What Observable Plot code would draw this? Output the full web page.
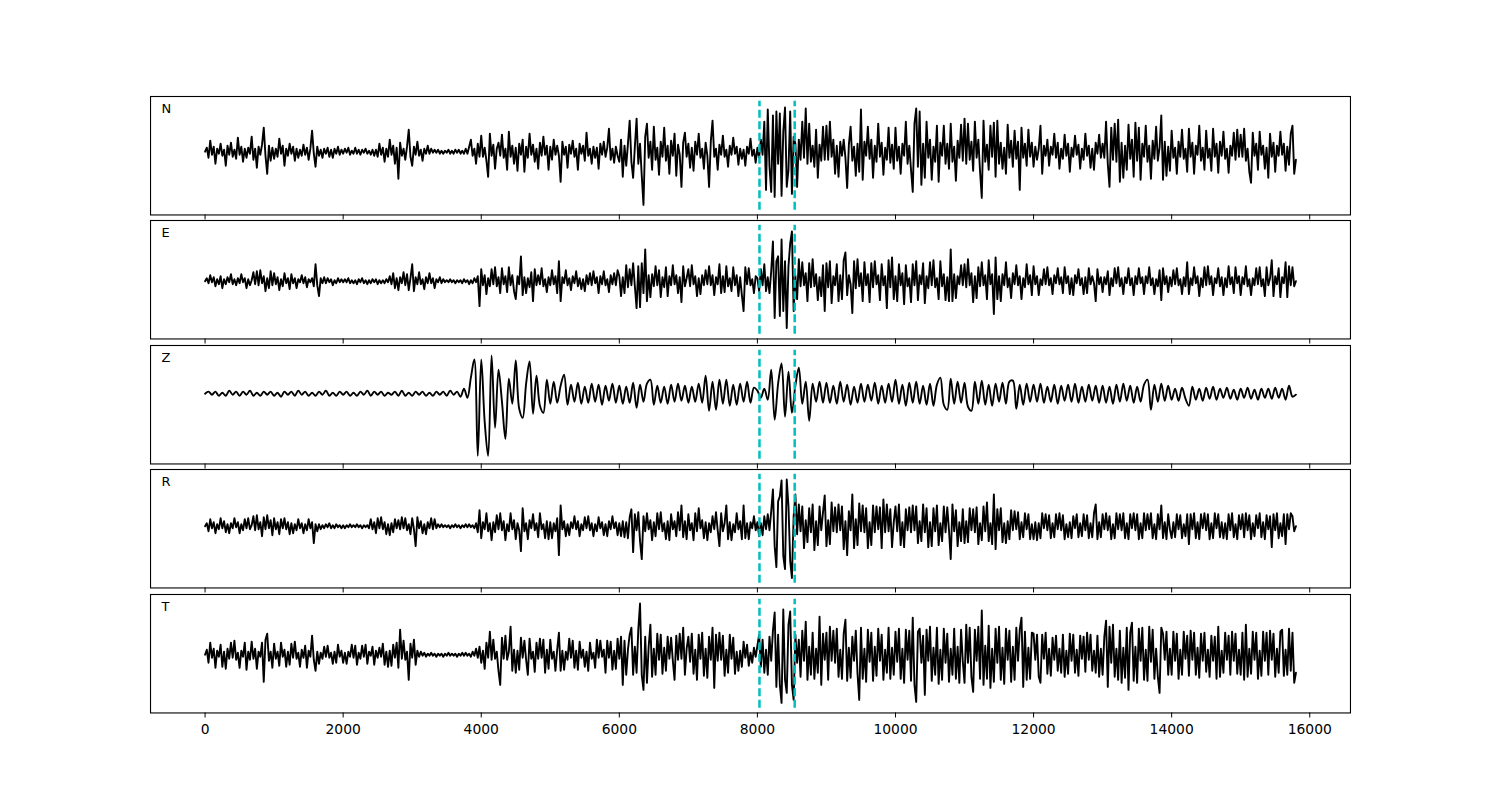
<!DOCTYPE html>
<html><head><meta charset="utf-8">
<script src="https://cdn.jsdelivr.net/npm/d3@7"></script>
<script src="https://cdn.jsdelivr.net/npm/@observablehq/plot@0.6"></script>
<style>
body{margin:0;background:#fff;}
#chart{position:relative;width:1500px;height:800px;overflow:hidden;}
.panel{position:absolute;left:0;}
</style>
</head><body><div id="chart"></div>
<script>
const components = ["N", "E", "Z", "R", "T"];
// sample spacing of each trace, in x units
const traceSteps = [25, 25, 50, 25, 25];
const nTrace = [
0, 4, -6, 11, -3, 5, -12, 3, -2, 8,  -4, 2, -14, 6, -3, 9, -5, 2, -7, 14,
-3, 5, -10, 3, -6, 4, -2, 15, -8, 3,  -16, 5, -3, 7, 24, -4, -22, 6, -9, 4,
-7, 3, -5, 13, -2, 6, -14, 3, -4, 8,  -2, 5, -9, 3, -6, 2, -4, 7, -3, 4,
-8, 3, 21, -2, -15, 5, -4, 2, -6, 3,  -2, 4, -5, 2, -6, 3, -2, 5, -3, 2,
-2, 3, -1, 4, -3, 1, -2, 4, -2, 2,  -3, 2, -1, 3, -2, 1, -3, 2, -4, 2,
-5, 8, -3, 4, -10, 3, -5, 12, -3, 6,  -12, 4, -27, 9, -4, 3, -8, 5, 22, -5,
-14, 5, -3, 10, -4, 2, -9, 3, -2, 6,  -2, 3, -1, 2, -1, 2, -2, 1, -2, 1,
-1, 2, -2, 1, -2, 2, -1, 2, -2, 1,  -2, 3, -2, 5, 12, -4, 3, -12, 8, -5,
16, -5, 4, -9, -25, 18, -4, 7, -17, 3,  9, -4, 17, -6, 3, -18, 20, -5, 6, -12,
4, -19, 8, -3, 12, -20, 5, -6, 18, -3,  7, -10, 3, -17, 9, -4, 15, -3, 6, -18,
5, -8, 12, -3, 6, -4, -30, 10, -3, 5,  -16, 7, -2, 11, -5, 3, -18, 8, -2, 6,
-9, 19, -4, 3, -12, 5, -6, 4, -17, 8,  -3, 10, -5, 4, 23, -8, 3, -11, 5, -4,
-10, 12, -25, 6, -14, 8, 31, -10, -26, 5,  33, -12, 8, -24, -53, 15, 28, -6, 10, -18,
25, -8, 4, -23, 10, -5, 24, -9, 6, -22,  11, -4, 18, -24, 7, -3, -35, 9, 19, -5,
8, -16, 4, -19, 10, -3, 18, -6, 3, -17,  9, -4, -35, 10, 31, -5, 3, -18, 7, -3,
16, -5, 2, -15, 6, -3, 14, -2, 5, -13,  3, -7, 2, -14, 5, -2, 13, -4, 2, -11,
4, -6, 12, -3, 30, -38, 42, -15, -40, 36,  -45, 40, -12, 38, -44, 20, 44, -35, -18, 40,
-42, 15, 8, -35, 12, -8, 30, -6, 43, -12,  28, -10, 6, -15, 22, -26, 7, -9, 25, -8,
26, -8, 30, -5, 12, -22, 6, -25, 10, -4,  12, -6, -36, 7, 25, -9, 5, -24, 8, -20,
42, -28, 10, -4, 25, -7, 12, -26, 6, -10,  28, -5, 9, -23, 4, -8, 24, -11, 7, -17,
24, -9, 5, -22, 8, -4, 30, -12, 6, -18,  -40, 28, 43, -15, 40, -33, 8, -26, 30, -6,
12, -28, 5, -10, 26, -30, 9, -4, 26, -12,  8, -17, 28, -10, 5, -29, 11, -6, 27, -9,
33, -12, 28, -8, 10, -19, 30, -6, 12, -20,  -46, 31, -10, 7, -18, 26, -5, 29, -25, 31,
-12, 9, -17, 4, -22, 27, -6, 11, -15, 21,  -7, 10, -38, 24, -6, 8, -14, 22, -5, 9,
-15, 5, -8, 3, 26, -22, 6, -4, 12, -14,  5, -3, 18, -6, 9, -17, 3, -7, 17, -4,
8, -20, 4, -5, 16, -3, 7, -17, 3, -8,  18, -4, 6, -16, 3, -18, 9, -2, 17, -6,
8, -6, 30, -12, -35, 24, -8, 28, -10, 32,  -30, 9, -26, 6, -18, 27, -7, 12, -25, 29,
-9, 24, -28, 8, -5, 26, -10, 6, -27, 11,  -7, 25, -9, 4, 36, -28, 10, -24, 5, -19,
21, -6, 4, -22, 10, -5, 22, -7, 3, -20,  23, -5, 9, -22, 6, -3, 26, -9, 4, -18,
21, -6, 3, -19, 23, -5, 8, -21, 10, -4,  20, -7, 3, -21, 6, -4, 19, -8, 22, -5,
17, -5, 23, -9, 3, -20, -31, 19, -4, 8,  -18, 20, -3, 6, -17, 4, -26, 18, -5, 9,
-20, 6, -4, 20, -3, 8, -19, 5, -13, 18,  26, -22, -8
];
const eTrace = [
0, 3, -2, 6, -1, 4, -5, 2, -3, 5,  -7, 2, -3, 4, -1, 7, -3, 2, -4, 3,
-2, 7, -1, 3, -7, 2, -4, 1, 9, -3,  10, -4, 11, -2, 5, -10, 3, -7, 10, -4,
8, -3, 4, -9, 2, -5, 8, -2, 3, -8,  7, -2, 3, -7, 2, -1, 6, -2, 4, -6,
2, -1, 3, -5, 17, -4, -15, 3, -2, 4,  -2, 3, -1, 2, -4, 1, -2, 3, -1, 2,
-1, 2, -1, 3, -2, 1, -2, 1, -3, 2,  -1, 3, -2, 1, -3, 1, -2, 2, -1, 2,
-3, 1, -2, 1, -2, 2, -1, 5, -3, 8,  -7, 3, -9, 4, -2, 9, -4, 7, -9, 3,
17, -10, 4, -3, 9, -3, 2, -8, 4, -2,  8, -2, 3, -7, 2, -1, 4, -2, 2, -1,
1, -1, 2, -1, 1, -2, 1, -1, 1, -2,  2, -1, 1, -3, 1, -2, 3, -1, 5, -25,
12, -4, 6, -13, 3, -5, 12, -3, 14, -5,  4, -12, 13, -3, 5, -11, 14, -4, 6, -10,
-18, 5, -3, 25, -14, 4, -12, 3, -6, 9,  -20, 12, -4, 6, -3, 13, -5, 2, -11, 4,
-4, 11, -3, 5, -12, 20, -20, 4, -2, 11,  -4, 3, -9, 5, -2, 10, -5, 3, -8, 2,
-10, 6, -3, 8, -4, 10, -2, 4, -12, 5,  -3, 10, -4, 2, -11, 6, -3, 8, -4, 11,
5, -15, 4, -12, 16, -6, 12, -4, 18, -5,  -27, 15, -26, 18, -12, 32, -20, 6, -16, 7,
-5, 15, -4, 11, -16, 4, -6, 14, -15, 5,  -4, 16, -3, 6, -12, 4, -21, 15, -5, 3,
12, -5, 16, -3, 5, -15, 3, -13, 6, -4,  11, -3, 15, -4, 6, -14, 4, -3, 17, -12,
5, -11, 15, -5, 3, -10, 14, -4, 6, -15,  4, -14, -30, 14, -3, 13, -4, 2, -12, 5,
3, -10, 12, -4, 17, -10, 4, -12, 10, 40,  -37, 20, 25, -35, 42, -30, 20, -47, 15, 38,
50, -30, 6, -18, 22, -5, 19, -4, 8, -20,  18, -6, 22, -5, 7, -19, 4, -15, 16, -30,
18, -6, 20, -22, 5, -4, 17, -20, 6, -18,  21, 29, -14, 6, -3, -32, 20, -7, 22, -5,
8, -20, 19, -4, 7, -21, 18, -6, 20, -3,  6, -19, 17, -4, 5, -27, 21, -6, 24, -18,
5, -20, 17, -4, 8, -23, 16, -5, 3, -21,  17, -4, 20, -19, 6, -3, 18, -22, 5, -7,
19, -4, 21, -6, 3, -18, 20, -5, 7, -19,  4, -20, 32, -20, 7, -17, 5, -3, 16, -4,
17, -6, 22, -4, 8, -21, 5, -17, 14, -5,  19, -4, 6, -18, 21, -3, 7, -33, 24, -18,
5, -20, 7, -4, 19, -6, 3, -17, 8, -3,  16, -4, 5, -18, 3, -6, 17, -3, 6, -14,
15, -3, 5, -14, 2, -4, 12, -3, 14, -4,  3, -13, 6, -2, 13, -3, 4, -12, 14, -2,
5, -13, 3, -14, 6, -2, 12, -4, 3, -13,  4, -12, 13, -3, 5, -2, -20, 12, -3, 4,
-11, 4, -3, 10, -14, 3, -5, 13, -2, 14,  -5, 3, -13, 4, -2, 13, -4, 3, -14, 5,
-3, 13, -2, 4, -13, 5, -2, 14, -4, 3,  -13, 2, -5, 11, -19, 13, -3, 5, -11, 4,
-5, 11, -3, 13, -4, 2, -13, 4, -5, 19,  -13, 3, -4, 14, -2, 5, -15, 3, -6, 14,
-4, 15, -3, 5, -14, 3, -2, 13, -5, 4,  -14, 3, -6, 15, -3, 4, -12, 14, -2, 5,
-14, 4, -3, 15, -5, 2, -14, 3, -4, 13,  -3, 14, -5, 2, -15, 14, -4, 3, 21, -15,
5, -3, 13, -16, 4, -2, 19, -16, 15, -4,  14, -5, 0
];
const zTrace = [
0, 2, -1, 2, -2, 1, -2, 3, -1, 2, -2, 2, -1, 3, -2, 1, -2, 2, -1, 2,
-2, 1, -3, 2, -1, 2, -2, 3, -1, 2, -2, 1, -2, 2, -1, 3, -2, 1, -2, 2,
-1, 2, -2, 1, -2, 2, -1, 3, -2, 2, -1, 2, -2, 1, -1, 2, -2, 3, -2, 1,
-2, 2, -1, 2, -2, 1, -2, 2, -1, 2, -2, 3, -1, 2, -3, 5, -4, 16, 34, -62,
34, -28, -62, 38, -34, 24, -8, -45, 15, -10, 33, -15, -24, 10, 32, -20, 18, -12, -19, 14,
-10, 12, -9, 8, 19, -11, 9, -8, 11, -10, 7, -9, 10, -8, 9, -11, 8, -7, 10, -9,
8, -10, 7, -9, 11, -14, 9, -8, 10, 14, -11, 8, -9, 7, -10, 9, -8, 10, -7, 8,
-9, 7, -8, 10, -9, 18, -17, 12, -16, 14, -10, 14, -12, 9, -11, 10, -8, 12, -9, 6,
3, -4, 5, -6, 24, -26, 10, 30, -23, 22, -19, 8, 26, -10, 12, -27, 10, -8, 12, -9,
11, -9, 8, -10, 12, -8, 9, -11, 7, -9, 10, -8, 9, -7, 11, -10, 8, -9, 10, -8,
14, -10, 9, -12, 11, -9, 12, -10, 8, -11, 10, -12, 9, 16, -11, -16, 15, -10, 12, -9,
11, -13, -17, 12, -10, 13, -11, 9, -12, 10, -8, 11, -10, 12, 13, -15, 9, -11, 10, -8,
9, -8, 10, -9, 7, -8, 9, -10, 8, -7, 9, -8, 10, -9, 7, -8, 9, -7, 8, -9,
8, -9, 7, -10, 9, -8, 10, -7, 8, -9, 7, -8, 9, 14, -16, 9, -8, 10, -7, 8,
-6, 5, -7, 6, -5, -12, 7, -6, 5, -7, 6, -5, 7, -6, 5, -4, 6, -5, 4, -6,
5, -4, 6, -5, 4, -6, 5, -4, 5, -5, 6, -4, 5, -6, 8, -3, -1
];
const rTrace = [
0, 3, -5, 7, -2, 4, -7, 2, -3, 8,  -2, 5, -6, 2, -7, 3, -2, 8, -1, 4,
-7, 2, -4, 7, -2, 8, -3, 1, 10, -4,  11, -3, 4, -10, 9, -3, 11, -2, 6, -9,
8, -3, 4, -8, 7, -2, 8, -3, 4, -8,  3, -7, 2, -4, 7, -2, 3, -7, 2, -4,
7, -2, 4, -17, 2, -5, 2, -3, 1, -2,  2, -1, 3, -2, 1, -2, 2, -1, 1, -2,
1, -2, 1, -1, 2, -1, 1, -1, 2, -1,  1, -2, 1, -1, 1, -2, 7, -3, 4, -7,
8, -2, 9, -3, 4, -8, 2, -9, 3, -6,  7, -2, 6, -3, 9, -2, 8, -4, 2, -8,
8, -3, -20, 9, -2, 5, -7, 2, -8, 4,  -2, 8, -3, 7, -2, 2, -1, 2, -1, 1,
-1, 1, -2, 1, -1, 2, -1, 1, -2, 1,  -1, 2, -1, 2, -1, 1, -2, 3, -6, 16,
-12, 4, -3, 13, -5, 3, -14, 4, -6, 11,  -3, 13, -4, 5, -14, 2, -5, 13, -3, 6,
-13, 3, -4, -25, 18, -5, 3, -13, 6, -2,  12, -4, 3, -11, 13, -3, 2, -12, 5, -13,
4, -12, 3, -5, 8, -29, 21, -3, 5, -10,  2, -9, 4, -2, 10, -3, 5, -10, 2, -4,
9, -2, 10, -4, 3, -10, 2, -5, 9, -2,  4, -9, 2, -10, 5, -3, 10, -2, 4, -9,
3, -10, 5, -11, 4, -12, 9, 17, -26, 12,  -4, 14, -15, -33, 10, -5, 13, -3, 6, -14,
4, -10, 13, -3, 14, -5, 3, -13, 5, -14,  12, -3, 5, -10, 14, -4, 21, -11, 5, -13,
12, -4, 3, -14, 13, -5, 18, -2, 6, -12,  4, -14, 3, -6, 10, -3, 14, -4, -20, 13,
-5, 3, 21, -13, 4, -14, 2, -6, 13, -3,  5, -13, 21, -12, 3, -13, 4, -2, 10, -4,
4, -10, 3, -9, 10, -3, 12, -4, 15, 37,  -20, -41, 25, 30, 46, -30, -43, 47, 20, -35,
-52, 10, 32, -8, 22, -5, 20, -22, 6, -16,  18, -6, 22, -24, 5, -19, 20, -4, 14, 31,
-20, 6, -18, 24, -5, 19, -6, 22, -4, 20,  -23, 5, -29, 15, -4, 32, -22, 7, -19, 23,
-5, 21, -6, 18, -22, 4, -19, 21, -6, 20,  -3, 19, -22, 27, -6, 22, -5, 17, -21, 4,
20, -5, 22, -19, 4, -21, 17, -4, 19, -6,  21, -4, 20, -17, 5, -15, 22, -6, 18, -21,
4, -20, 18, -5, 21, -19, 3, -15, 20, -6,  19, -4, -33, 22, -5, 16, -20, 4, -15, 17,
-17, 5, -16, 18, -4, 17, -6, 19, -18, 3,  -14, 20, -5, 24, -15, 3, -18, 32, -23, 17,
-4, 18, -16, 3, -17, 5, -13, 16, -4, 15,  -3, 14, -13, 4, -11, 13, -3, 12, -13, 2,
-13, 4, -14, 3, -12, 13, -2, 12, -4, 11,  -12, 3, -11, 12, -3, 13, -4, 11, -13, 2,
-11, 4, -12, 10, -2, 12, -11, 3, -10, 12,  -4, 11, -12, 3, -11, 13, 22, -13, 4, -11,
12, -3, 13, -4, 10, -13, 2, -12, 13, -3,  12, -4, 13, -12, 3, -13, 12, -2, 13, -4,
12, -13, 3, -12, 13, -4, 12, -3, 13, -12,  2, -13, 12, -3, 21, -12, 4, -13, 12, -3,
-12, 4, -11, 12, -3, 11, -12, 2, -10, 12,  -18, 12, -3, 13, -12, 4, -13, 12, -2, 13,
-4, 12, -13, 3, -12, 13, -2, 12, -11, 4,  -12, 3, -13, 12, -4, 13, -11, 2, -13, 11,
-3, 12, -11, 13, -4, 11, -13, 3, -10, 11,  -2, 13, -11, 4, -13, 11, -3, 10, -21, 12,
-4, 13, -12, 3, -10, 12, -18, 12, -3, 13,  10, -5, 0
];
const tTrace = [
0, 5, -8, 12, -3, 6, -13, 4, -2, 10,  -12, 3, -14, 6, -4, 12, -3, 14, -5, 2,
-13, 4, -2, 12, -15, 3, -5, 13, -4, 6,  -14, 3, -2, 12, -27, 15, 21, -6, 3, -13,
11, -4, 3, -11, 12, -2, 5, -12, 3, -10,  11, -3, 13, -4, 2, -12, 5, -3, 9, -13,
4, -2, 19, -5, -16, 3, -9, 2, -4, 8,  -2, 9, -3, 2, -9, 3, -8, 10, -2, 4,
-8, 2, -9, 3, -2, 10, -3, 9, -10, 2,  -4, 9, -2, 10, -9, 3, -1, 8, -10, 4,
-3, 7, -2, 11, -10, 3, -12, 4, -11, 10,  -3, 12, -13, 25, -4, 14, -5, 3, -25, 11,
-3, 15, -10, 4, -2, 3, -1, 2, -2, 1,  -1, 2, -1, 1, -2, 1, -1, 1, -2, 1,
-1, 2, -1, 1, -1, 1, -2, 1, -1, 2,  -1, 2, -1, 1, -2, 3, -1, 6, -3, 8,
-8, 4, -14, 12, -3, 23, -5, 15, -4, 3,  -16, -30, 17, -4, 19, -5, 3, 28, -16, 5,
-18, 4, -15, 17, -3, 14, -5, -20, 16, -4,  3, -17, 12, -4, 16, -3, 15, -18, 5, -14,
15, -4, 3, -16, 5, 22, -16, 4, -15, 3,  -5, 16, -3, 14, -13, 4, -15, 13, -3, 5,
-12, 3, -16, 12, -4, 2, -13, 15, -3, 14,  -2, 5, -18, 14, -3, 13, -15, 4, -14, 16,
-4, 18, -30, 14, -20, 5, 20, 27, -20, 8,  -18, 25, 51, -20, -35, 18, -28, 8, 30, -22,
6, -20, 21, -5, 20, -19, 7, -16, 18, -4,  17, -6, -25, 19, -5, 21, -4, 27, -20, 6,
18, -7, 21, -19, 5, -25, 20, -4, 22, -21,  6, -23, 18, -5, 27, -33, 20, -6, 22, -5,
19, -21, 5, -18, 20, -4, 17, -19, 3, -16,  4, -12, 13, -3, 10, -11, 2, -8, 7, -2,
9, 20, -12, 15, -18, 5, -20, 18, -6, 24,  42, -32, 20, -30, -48, 45, -25, -38, 30, 43,
-30, -45, 20, -8, 15, -22, 24, -6, 33, -25,  8, -20, 22, -24, 6, -18, 38, -30, 21, -5,
22, -25, 28, -6, 24, -8, 26, -22, 5, -24,  21, 35, -26, 7, -23, 18, -6, 24, -19, -45,
27, -24, 6, -27, 25, -7, 22, -26, 8, -21,  26, -6, 20, -25, 5, -18, 27, -24, 7, -20,
23, -7, 26, -24, 6, -28, 25, -5, 24, -26,  37, -30, -47, 23, 26, -8, 19, -40, 25, -6,
28, -26, 7, -20, 27, -29, 5, -25, 26, -8,  21, -27, 6, -20, 26, -24, 8, -28, 25, -7,
-28, 30, -8, 27, -22, -37, 25, -6, 28, -24,  44, -30, 9, -24, 29, -33, 6, -27, 26, -8,
28, -25, 7, -29, 26, -5, 24, -27, 8, -25,  27, -6, 25, 37, -32, 23, -25, 7, -24, 22,
21, -5, 20, -22, -28, 20, -4, 22, -19, 6,  -21, 17, -5, 19, -16, 6, -18, 20, -22, 4,
-19, 21, -6, 20, -18, 5, -21, 19, -4, 18,  -17, 22, -5, 20, -16, 4, -18, 19, -22, 6,
-20, 18, 34, -32, 28, -8, 30, -22, 6, -25,  24, -28, 7, -23, 27, -35, 22, 32, -26, 8,
-28, 26, -6, 27, -25, 5, -26, 28, -7, 25,  -24, 6, -22, -38, 27, 21, -5, 23, -20, 6,
-20, 23, -6, 21, -24, 5, -20, 23, -4, 19,  -21, 24, -5, 22, -20, 7, -23, 21, -6, 22,
-17, 5, -22, 19, -6, 18, -24, 28, -22, 4,  -18, 22, -5, 19, -20, 23, -6, 21, -19, 5,
-20, 22, -25, 30, -22, 6, -19, 23, -5, 22,  -24, 4, -21, 23, -6, 22, -20, 24, -5, 21,
-22, 6, -18, 23, 25, -21, 5, -20, 26, -16,  22, -28, -18
];
const yLimits = [[-63, 55], [-58, 61], [-70, 48], [-62, 57], [-58, 60]];
const xLimits = [-790, 16590];
const picks = [8030, 8540];
const xTicks = [0, 2000, 4000, 6000, 8000, 10000, 12000, 14000, 16000];

const traces = [nTrace, eTrace, zTrace, rTrace, tTrace];
const chart = document.getElementById("chart");
const panelTop = 96, panelH = 118.46, panelStep = 124.38;

components.forEach((comp, k) => {
  const last = k === components.length - 1;
  const mt = 3, mb = last ? 40 : 7;
  const [lo, hi] = yLimits[k];
  const inset = 0.04 * (hi - lo);
  const step = traceSteps[k];
  const data = traces[k].map((v, i) => ({t: i * step, a: v}));
  const svg = Plot.plot({
    width: 1500,
    height: mt + panelH + mb,
    marginLeft: 150,
    marginRight: 150,
    marginTop: mt,
    marginBottom: mb,
    style: {background: "transparent", overflow: "visible", fontFamily: "DejaVu Sans", fontSize: "13.9px", color: "black"},
    x: {domain: xLimits},
    y: {domain: [lo, hi], axis: null},
    marks: [
      Plot.line(data, {x: "t", y: "a", stroke: "black", strokeWidth: 1.9, curve: comp === "Z" ? "catmull-rom" : "linear"}),
      Plot.ruleX(picks, {y1: lo + inset, y2: hi - inset, stroke: "#00BFBF", strokeWidth: 2.5, strokeDasharray: "8,3.5"}),
      Plot.frame({stroke: "black", strokeWidth: 1.1}),
      Plot.text([comp], {frameAnchor: "top-left", text: d => d, dx: 11, dy: 12, textAnchor: "start", lineAnchor: "middle", fontSize: 13, fill: "black"}),
      Plot.axisX({ticks: xTicks, tickSize: 5, tickPadding: 6, label: null, tickFormat: last ? d3.format("d") : () => "", fill: "black", stroke: "black"})
    ]
  });
  const div = document.createElement("div");
  div.className = "panel";
  div.style.top = (panelTop + k * panelStep - mt) + "px";
  div.append(svg);
  chart.append(div);
});
</script>
</body></html>
